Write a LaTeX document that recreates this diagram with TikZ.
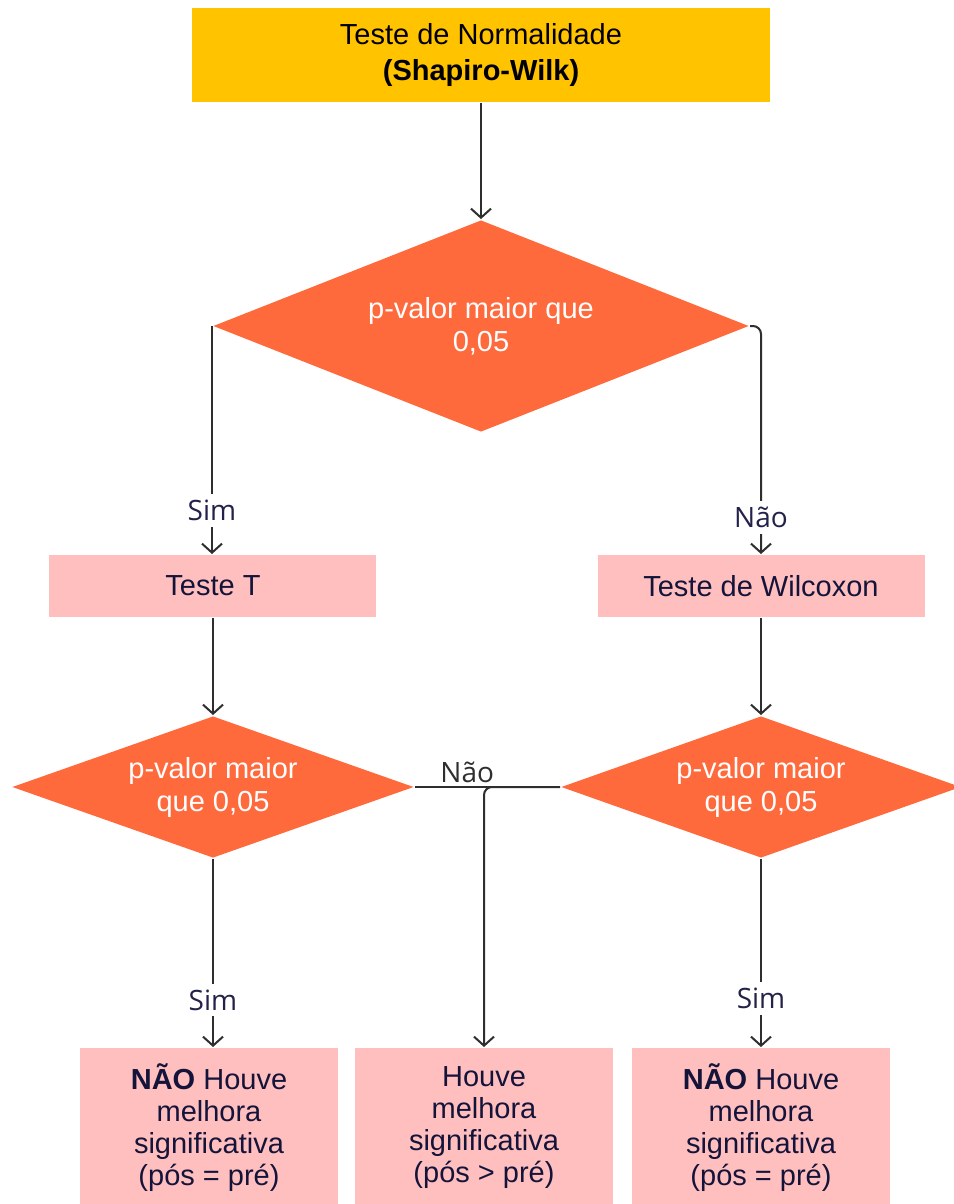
\documentclass[tikz,border=0pt]{standalone}
\usepackage{fontspec}
\setmainfont{Liberation Sans}
\newfontfamily\labelfont{Open Sans}
\usetikzlibrary{shapes.geometric, positioning, arrows.meta}

\definecolor{gold}{HTML}{FFC300}
\definecolor{tomato}{HTML}{FF6A3D}
\definecolor{rose}{HTML}{FFBFBF}
\definecolor{ink}{HTML}{14143A}
\definecolor{edgegray}{HTML}{2E2E2E}
\definecolor{labelnavy}{HTML}{22224A}

\begin{document}
\begin{tikzpicture}[x=1pt,y=1pt,on grid,line width=2pt,
    startbox/.style={rectangle,fill=gold,minimum width=578pt,minimum height=94pt,
      inner sep=0pt,align=center,font=\fontsize{29}{36}\selectfont},
    decision/.style={diamond,fill=tomato,aspect=2.8,inner sep=0pt,align=center,
      text=white,font=\fontsize{29}{33}\selectfont},
    process/.style={rectangle,fill=rose,minimum width=327pt,minimum height=62pt,
      inner sep=0pt,text=ink,font=\fontsize{29}{33}\selectfont},
    result/.style={rectangle,fill=rose,minimum width=258pt,minimum height=160pt,
      inner sep=0pt,align=center,text=ink,font=\fontsize{29}{32}\selectfont},
    flow/.style={draw=edgegray,-{Straight Barb[length=9pt,width=20pt]}},
    answer/.style={font=\labelfont\fontsize{28}{30}\selectfont,text=labelnavy,
      fill=white,inner sep=6pt}]
  \useasboundingbox (-481,55) rectangle (472,-1149);

  \node[startbox] (t_norm) {Teste de Normalidade\\\textbf{(Shapiro-Wilk)}};
  \node[decision,minimum width=536pt,minimum height=212pt] (p_1) [below=271pt of t_norm] {p-valor maior que\\0,05};
  \node[process] (t_T) [below left=260pt and 268pt of p_1] {Teste T};
  \node[process] (t_W) [below right=260pt and 280pt of p_1] {Teste de Wilcoxon};
  \node[decision,minimum width=402pt,minimum height=142pt] (p_2) [below=201pt of t_T] {p-valor maior\\que 0,05};
  \node[decision,minimum width=400pt,minimum height=142pt] (p_3) [below=201pt of t_W] {p-valor maior\\que 0,05};
  \node[result] (r_1) [below left=341pt and 4pt of p_2] {\textbf{NÃO} Houve\\melhora\\significativa\\(pós = pré)};
  \node[result] (r_2) [right=275pt of r_1] {Houve\\melhora\\significativa\\(pós > pré)};
  \node[result] (r_3) [below=341pt of p_3] {\textbf{NÃO} Houve\\melhora\\significativa\\(pós = pré)};

  \path
    (t_norm) edge[flow] (p_1)
    (p_1.west) edge[flow] node[answer,pos=0.81] {Sim} (p_1.west |- t_T.north)
    (t_T) edge[flow] (p_2)
    (t_W) edge[flow] (p_3)
    (p_2.south) edge[flow] node[answer,pos=0.75] {Sim} (p_2.south |- r_1.north)
    (p_3) edge[flow] node[answer,pos=0.74] {Sim} (r_3);
  \draw[flow,rounded corners=8pt] (p_1.east) -| node[answer,pos=0.92] {Não} (t_W);
  \draw[draw=edgegray] (p_2.east) -- node[pos=0.36,above,inner sep=3pt,
    font=\labelfont\fontsize{28}{30}\selectfont,text=edgegray] {Não} (p_3.west);
  \draw[flow,rounded corners=8pt] (p_3.west) -| (r_2);
\end{tikzpicture}
\end{document}
